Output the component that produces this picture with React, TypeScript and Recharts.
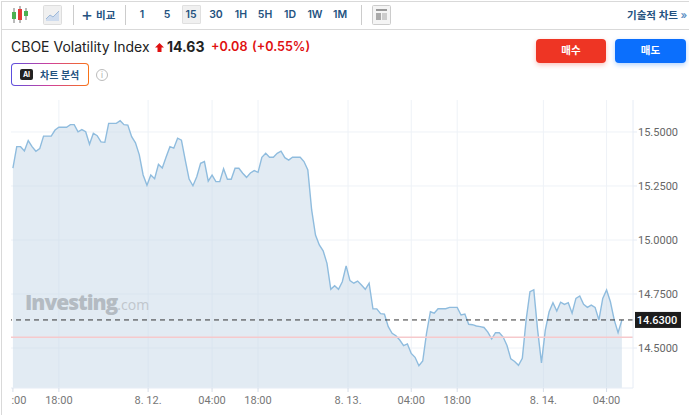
import React from "react";
import {
  AreaChart,
  Area,
  XAxis,
  YAxis,
  CartesianGrid,
  ReferenceLine,
} from "recharts";

const prices = [
  15.333, 15.432, 15.432, 15.412, 15.46, 15.432, 15.411, 15.423, 15.481, 15.481,
  15.481, 15.509, 15.522, 15.522, 15.522, 15.534, 15.534, 15.501, 15.511, 15.501,
  15.443, 15.494, 15.483, 15.454, 15.452, 15.54, 15.54, 15.54, 15.552, 15.534,
  15.532, 15.478, 15.45, 15.394, 15.301, 15.253, 15.301, 15.284, 15.35, 15.333,
  15.384, 15.432, 15.425, 15.471, 15.462, 15.37, 15.282, 15.251, 15.293, 15.355,
  15.363, 15.272, 15.3, 15.27, 15.27, 15.33, 15.281, 15.281, 15.332, 15.332,
  15.309, 15.29, 15.31, 15.321, 15.313, 15.383, 15.401, 15.383, 15.383, 15.401,
  15.411, 15.381, 15.37, 15.383, 15.383, 15.383, 15.363, 15.324, 15.139, 15.023,
  14.977, 14.95, 14.892, 14.772, 14.788, 14.772, 14.807, 14.88, 14.812, 14.8,
  14.81, 14.792, 14.772, 14.8, 14.681, 14.681, 14.659, 14.657, 14.599, 14.568,
  14.557, 14.537, 14.511, 14.519, 14.475, 14.457, 14.418, 14.44, 14.569, 14.668,
  14.661, 14.682, 14.682, 14.682, 14.688, 14.688, 14.688, 14.653, 14.657, 14.61,
  14.608, 14.602, 14.599, 14.595, 14.574, 14.542, 14.571, 14.571, 14.551, 14.512,
  14.45, 14.438, 14.42, 14.452, 14.63, 14.761, 14.769, 14.583, 14.431, 14.583,
  14.668, 14.71, 14.671, 14.712, 14.702, 14.71, 14.661, 14.73, 14.741, 14.702,
  14.688, 14.699, 14.688, 14.63, 14.73, 14.769, 14.714, 14.63, 14.571, 14.63,
];

const timeTicks = [0, 12, 35.3, 52, 64, 87.5, 104, 116, 138.5, 155];
const timeLabels = [":00", "18:00", "8. 12.", "04:00", "18:00", "8. 13.", "04:00", "18:00", "8. 14.", "04:00"];
const priceTicks = [14.5, 14.63, 14.75, 15, 15.25, 15.5];
const lastPrice = 14.63;
const prevClose = 14.55;
const intervals = ["1", "5", "15", "30", "1H", "5H", "1D", "1W", "1M"];
const intervalCenters = [142, 167, 191, 216, 241, 265, 290, 315, 340];

const data = prices.map((price, i) => ({ i, price }));

const KR = '"Inter", "Noto Sans CJK KR", sans-serif';
const NAVY = "#24527f";

const abs = (left: number, top: number, extra: React.CSSProperties = {}): React.CSSProperties => ({
  position: "absolute",
  left,
  top,
  whiteSpace: "nowrap",
  ...extra,
});

const TimeTick = ({ x, y, payload }: any) => {
  const idx = timeTicks.indexOf(payload.value);
  return (
    <text
      x={idx === 0 ? x + 6 : x}
      y={y + 10}
      textAnchor="middle"
      fontSize={11}
      fontFamily="Roboto, sans-serif"
      fill="#777"
    >
      {timeLabels[idx]}
    </text>
  );
};

const PriceTick = ({ x, y, payload }: any) => {
  if (payload.value === lastPrice) {
    return (
      <g>
        <rect x={x - 4} y={y - 8} width={46} height={16} fill="#1c1c1c" />
        <text x={x + 18} y={y + 4} textAnchor="middle" fontSize={11} fontWeight={500} fontFamily="Roboto, sans-serif" fill="#fff">
          {payload.value.toFixed(4)}
        </text>
      </g>
    );
  }
  return (
    <text x={x - 1} y={y + 4} fontSize={11} fontFamily="Roboto, sans-serif" fill="#666">
      {payload.value.toFixed(4)}
    </text>
  );
};

const Toolbar = () => (
  <>
    <div style={abs(1, 1, { width: 688, height: 27, borderTop: "1px solid #d9d9d9", borderBottom: "1px solid #d9d9d9" })} />
    <svg style={abs(11, 6)} width={18} height={18}>
      <line x1={3} y1={2} x2={3} y2={17} stroke="#777" />
      <rect x={1} y={6} width={4} height={7} fill="#4caf50" />
      <line x1={9} y1={0} x2={9} y2={17} stroke="#777" />
      <rect x={7} y={3} width={4} height={11} fill="#e53935" />
      <line x1={15} y1={2} x2={15} y2={14} stroke="#777" />
      <rect x={13} y={5} width={4} height={5} fill="#4caf50" />
    </svg>
    <svg style={abs(43, 5)} width={19} height={20}>
      <rect x={0.5} y={0.5} width={18} height={19} rx={1} fill="#f0f0f0" stroke="#ddd" />
      <path d="M3 14 L7 10 L10 12 L16 6 L16 16 L3 16 Z" fill="#cfdcee" />
      <path d="M3 14 L7 10 L10 12 L16 6" fill="none" stroke="#9db8d8" />
    </svg>
    <div style={abs(73, 5, { width: 1, height: 20, background: "#ccc" })} />
    <div style={abs(81, 5, { fontSize: 18, lineHeight: "20px", color: NAVY, fontFamily: KR })}>+</div>
    <div style={abs(96, 7, { fontSize: 10.5, fontWeight: 600, color: NAVY, fontFamily: KR })}>비교</div>
    <div style={abs(125, 5, { width: 1, height: 20, background: "#ccc" })} />
    <div style={abs(182, 5, { width: 19, height: 19, background: "#f0f0f0", border: "1px solid #e0e0e0", borderRadius: 1, boxSizing: "border-box" })} />
    {intervals.map((label, i) => (
      <div
        key={label}
        style={abs(intervalCenters[i] - 12, 8, {
          width: 24,
          textAlign: "center",
          fontSize: 10.5,
          fontWeight: 600,
          color: NAVY,
          fontFamily: KR,
        })}
      >
        {label}
      </div>
    ))}
    <div style={abs(361, 5, { width: 1, height: 20, background: "#ccc" })} />
    <svg style={abs(372, 5)} width={19} height={20}>
      <rect x={0.5} y={0.5} width={18} height={19} rx={1} fill="#f4f4f4" stroke="#ccc" />
      <rect x={4} y={4} width={11} height={2} fill="#999" />
      <rect x={4} y={8} width={5} height={7} fill="#aaa" />
      <rect x={10} y={8} width={5} height={7} fill="#ccc" />
    </svg>
    <div style={abs(627, 7, { fontSize: 10.5, fontWeight: 600, color: NAVY, fontFamily: KR })}>
      기술적 차트 <span style={{ color: "#5b8fc4" }}>»</span>
    </div>
  </>
);

const Header = () => (
  <>
    <div style={abs(11, 38, { fontSize: 14, color: "#222", fontFamily: "Inter, sans-serif" })}>CBOE Volatility Index</div>
    <svg style={abs(155, 43)} width={9} height={9}>
      <path d="M4.5 0 L9 4.5 L6.5 4.5 L6.5 9 L2.5 9 L2.5 4.5 L0 4.5 Z" fill="#e01010" />
    </svg>
    <div style={abs(167, 38, { fontSize: 14, fontWeight: 700, color: "#222", fontFamily: "Inter, sans-serif" })}>14.63</div>
    <div style={abs(211, 39, { fontSize: 12.6, fontWeight: 600, color: "#e01010", fontFamily: "Inter, sans-serif" })}>+0.08</div>
    <div style={abs(252, 39, { fontSize: 12.6, fontWeight: 600, color: "#e01010", fontFamily: "Inter, sans-serif" })}>(+0.55%)</div>
    <div
      style={abs(11, 63, {
        width: 78,
        height: 23,
        boxSizing: "border-box",
        border: "1px solid transparent",
        borderRadius: 4,
        background: "linear-gradient(#fff,#fff) padding-box, linear-gradient(90deg,#5a4fe0,#d0409a,#f97316) border-box",
      })}
    />
    <div style={abs(20, 69, { width: 13, height: 11, background: "#222", borderRadius: 2, color: "#fff", fontSize: 7, fontWeight: 700, lineHeight: "11px", textAlign: "center", fontFamily: "Inter, sans-serif" })}>AI</div>
    <div style={abs(40, 67, { fontSize: 10, fontWeight: 600, color: NAVY, fontFamily: KR })}>차트 분석</div>
    <div style={abs(96, 69, { width: 12, height: 12, boxSizing: "border-box", border: "1px solid #bbb", borderRadius: "50%", color: "#aaa", fontSize: 8, lineHeight: "10px", textAlign: "center", fontFamily: "Inter, sans-serif" })}>i</div>
    <div style={abs(536, 39, { width: 70, height: 24, borderRadius: 4, background: "#ee3524", boxShadow: "0 2px 5px rgba(238,53,36,.3)", color: "#fff", fontSize: 10.5, fontWeight: 600, lineHeight: "24px", textAlign: "center", fontFamily: KR })}>매수</div>
    <div style={abs(615, 39, { width: 71, height: 24, borderRadius: 4, background: "#0b6ffd", boxShadow: "0 2px 5px rgba(11,111,253,.3)", color: "#fff", fontSize: 10.5, fontWeight: 600, lineHeight: "24px", textAlign: "center", fontFamily: KR })}>매도</div>
  </>
);

const App = () => (
  <div style={{ position: "absolute", left: 0, top: 0, width: 689, height: 415, overflow: "hidden", background: "#fff" }}>
    <div style={abs(1, 1, { width: 1, height: 414, background: "#d9d9d9" })} />
    <div style={abs(0, 0)}>
      <AreaChart
        width={689}
        height={415}
        data={data}
        margin={{ top: 100, right: 0, left: 11, bottom: 0 }}
      >
        <CartesianGrid
          stroke="#eef2f7"
          horizontalValues={[14.5, 14.75, 15, 15.25, 15.5]}
          verticalValues={timeTicks.slice(1)}
        />
        <XAxis
          dataKey="i"
          type="number"
          domain={[-0.5, 161.9]}
          ticks={timeTicks}
          interval={0}
          height={27}
          axisLine={{ stroke: "#e6ecf5" }}
          tickLine={{ stroke: "#d5dde8" }}
          tickSize={4}
          tick={<TimeTick />}
        />
        <YAxis
          orientation="right"
          type="number"
          domain={[14.315, 15.648]}
          ticks={priceTicks}
          interval={0}
          width={56}
          axisLine={{ stroke: "#e6ecf5" }}
          tickLine={{ stroke: "#e6ecf5" }}
          tickSize={4}
          tick={<PriceTick />}
        />
        <Area
          type="linear"
          dataKey="price"
          baseValue={14.315}
          stroke="#8fbcde"
          strokeWidth={1.4}
          fill="#c6d8e8"
          fillOpacity={0.5}
          dot={false}
          activeDot={false}
          isAnimationActive={false}
        />
        <ReferenceLine y={prevClose} stroke="#f6c9cc" strokeWidth={1.5} />
        <ReferenceLine y={lastPrice} stroke="#333" strokeDasharray="5 4" />
      </AreaChart>
    </div>
    <div style={abs(25, 288, { fontFamily: '"Open Sans", sans-serif', color: "#b4bbc2", fontSize: 21, fontWeight: 800, letterSpacing: -1 })}>
      Investing<span style={{ fontSize: 14, fontWeight: 400, letterSpacing: 0, color: "#c0c6cc" }}>.com</span>
    </div>
    <Toolbar />
    <Header />
  </div>
);

export default App;
